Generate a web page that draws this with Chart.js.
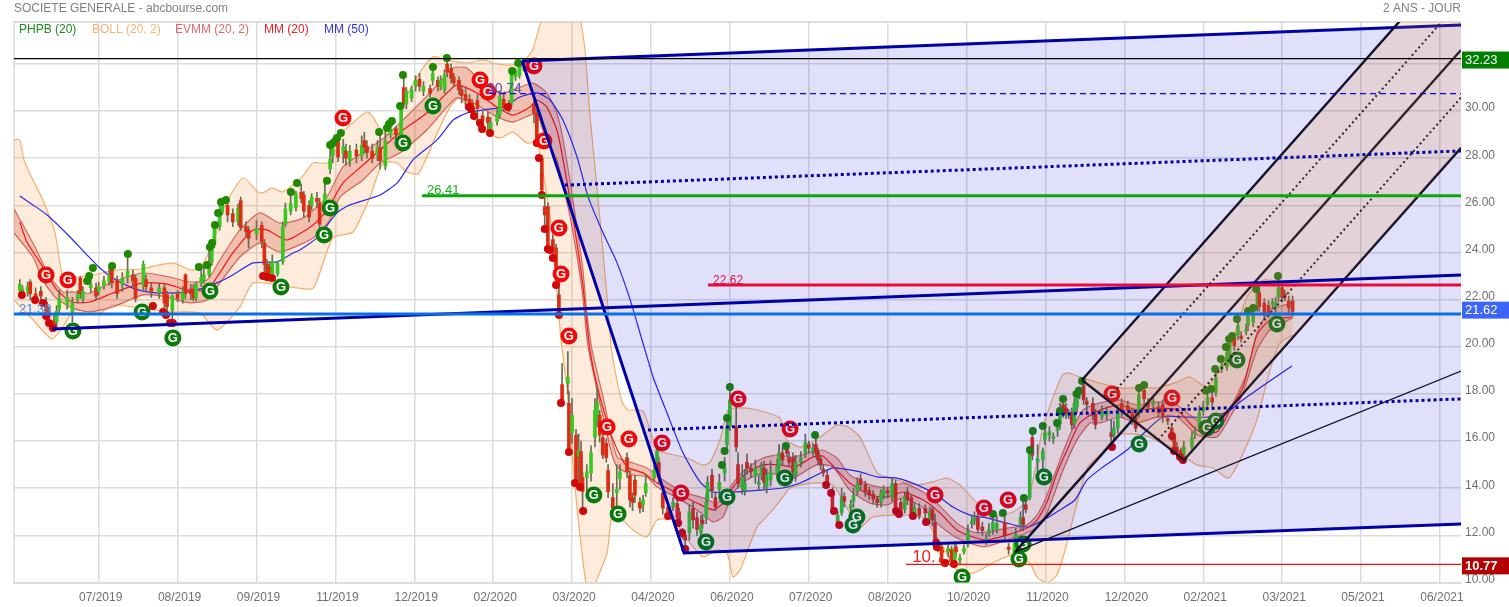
<!DOCTYPE html>
<html>
<head>
<meta charset="utf-8">
<title>SOCIETE GENERALE</title>
<style>
html, body { margin: 0; padding: 0; background: #fff; }
canvas { display: block; }
</style>
<script src="https://cdn.jsdelivr.net/npm/chart.js@4/dist/chart.umd.min.js"></script>
</head>
<body>
<canvas id="chart" width="1509" height="607"></canvas>
<script>
// axis
const tickDays = [30, 60, 90, 120, 150, 180, 210, 240, 270, 300, 330, 360, 390, 420, 450, 480, 510, 540];
const tickLabels = ['07/2019', '08/2019', '09/2019', '11/2019', '12/2019', '02/2020', '03/2020', '04/2020', '06/2020',
  '07/2020', '08/2020', '10/2020', '11/2020', '12/2020', '02/2021', '03/2021', '05/2021', '06/2021'];

// candles
const candleDays = [
  0,1,3,4,6,8,10,11,13,14,
  15,18,20,22,23,24,27,29,30,32,
  34,35,37,39,41,43,44,47,48,50,
  53,55,56,58,60,62,63,65,66,67,
  69,70,72,73,74,76,77,79,81,83,
  84,86,87,90,92,93,94,95,96,98,
  100,101,103,105,107,108,110,111,113,114,
  116,118,119,121,123,124,125.5,128,130,131,
  132,134,136,137,139,141,143,145,146,147,
  149,150.5,152,153.5,156,157,159,160,161.5,162.5,
  164,165,167,168,169.5,171,172,174,176,178,
  179,181.5,182.5,184,186,187,188.5,190,191.5,195.5,
  196.6,198.5,199.6,200.8,202.7,203.9,205,206.2,208.4,208.8,
  210,211.5,212.5,213.4,214,215.6,217.2,218.7,219.5,220.5,
  221.7,223,223.7,225.5,227,228.2,230.9,232,233,233.9,
  235.8,237,238,241.2,242.3,243,244.5,246.5,248.4,250,
  250.7,252,253,254.6,256,257.5,259,259.6,261,261.5,
  263.2,264.5,266,268,268.9,270,272.4,273.1,274.7,275.7,
  276.5,278,279.7,281,282,283,284,285.5,288,288.7,
  290,291.7,292.5,294,295,297,298.7,300,301.6,302.7,
  303.5,304.5,305.5,307,309,311,312.5,313.5,316,317,
  318.5,319.7,321.5,323,324.5,326,327.5,328.5,330,331.7,
  333,335,336.5,337.5,339,340.2,342,344.3,346,347,
  348,349,350.5,353,354.3,355.5,356,357.5,359,360.5,
  362,363,364.3,366,367.5,368.5,370,371.5,374.5,376,
  378.2,378.7,380.5,381.5,382.5,384,385,387,389,389.8,
  391.5,393,394.6,395.5,396.7,397.8,398.8,400,401,402,
  403,404.5,405.7,408,409,411.5,413.3,415,416,417.5,
  419,421.3,423,424.3,425.5,427.5,429,431,433,434.6,
  436.5,438,439,440,441.5,442.6,445.7,446.8,448.5,450,
  451.6,453.4,454.8,457,459,460,461.8,463.2,464.4,466.3,
  467,469,470.6,471.3,473.2,474.8,476.3,477.5,478.6,480,
  481,482.5,484
];
const opens = [
  22.4,22.35,22.35,22.75,22.25,22.35,21.9,21.5,21.1,21.05,
  21.6,21.8,21.4,22.05,22.9,22.05,22.5,22.5,22.35,22.6,
  22.75,23.3,22.8,22.65,22.95,23.05,22.9,22.6,22.85,22.5,
  22.3,22.5,22.2,21.55,22.25,22.0,23.05,22.45,22.45,22.05,
  22.7,22.85,23.05,23.6,24.35,25.1,25.7,26.0,25.65,25.3,
  26.2,25.1,24.95,24.8,25.15,24.4,23.5,23.4,23.1,23.1,
  23.6,25.2,25.75,25.9,26.55,26.45,26.0,26.0,26.3,26.1,
  25.85,27.55,28.1,28.75,28.2,28.3,27.9,28.35,28.1,28.75,
  28.5,28.3,28.15,28.45,27.65,29.0,29.25,28.95,31.0,30.3,
  30.55,31.05,31.35,30.85,30.95,31.3,31.3,31.05,30.9,32.0,
  31.8,31.45,31.3,30.9,30.7,30.5,30.35,30.45,29.8,29.75,
  29.05,29.55,29.85,30.5,30.3,30.35,31.45,31.5,32.1,30.3,
  29.9,28.0,25.95,25.95,24.55,24.2,22.2,18.4,18.45,17.6,
  16.35,16.25,15.35,15.55,14.45,14.45,14.65,16.15,16.9,17.1,
  16.15,15.9,14.75,13.6,13.8,14.4,15.3,14.55,13.6,14.35,
  13.4,13.3,13.8,14.45,14.8,15.1,13.8,13.2,13.2,13.35,
  13.0,12.15,12.0,12.1,13.15,12.75,12.1,12.65,12.75,13.5,
  14.55,13.6,13.95,14.65,15.85,16.6,16.6,15.0,14.0,13.9,
  15.1,14.85,14.5,14.15,14.55,14.85,14.05,14.35,14.65,14.9,
  15.5,15.75,15.3,15.3,14.55,15.1,15.5,15.85,15.55,15.85,
  15.55,15.25,14.8,14.55,13.85,12.55,12.95,13.65,13.15,13.45,
  13.85,14.4,14.15,13.9,13.75,13.55,13.4,13.7,13.9,13.6,
  14.2,13.4,13.1,13.85,13.6,12.95,13.15,13.15,12.65,13.1,
  12.55,11.7,11.5,11.3,11.4,10.85,11.5,10.95,11.3,11.6,
  12.5,12.6,12.75,12.35,11.7,12.1,12.25,12.25,12.55,11.5,
  11.25,11.9,12.45,12.75,13.3,13.6,16.15,15.1,15.2,16.05,
  16.25,16.1,16.45,16.75,17.55,17.4,17.1,17.2,16.75,17.45,
  17.95,18.35,17.7,17.6,17.15,17.05,17.1,16.35,16.25,16.55,
  17.6,17.5,17.2,17.0,17.2,18.15,17.6,17.55,17.45,17.55,
  16.95,16.55,16.15,15.75,15.6,15.3,15.75,16.3,16.6,17.25,
  17.55,17.85,18.05,19.05,19.15,19.75,20.35,20.5,20.45,20.65,
  20.9,21.05,21.7,22.3,21.85,21.75,21.8,21.65,22.1,22.5,
  22.25,21.95,21.95
];
const closes = [
  22.65,22.45,22.55,22.25,22.05,22.15,21.5,21.25,20.95,21.5,
  22.05,22.1,21.85,22.2,22.25,22.35,22.65,22.15,22.55,22.8,
  23.05,22.7,22.25,22.9,23.2,22.8,22.05,23.5,22.55,22.35,
  22.5,21.85,21.7,22.15,22.05,22.35,22.25,22.25,22.05,22.65,
  22.95,23.05,23.5,24.3,25.05,25.65,26.2,25.6,25.3,25.9,
  25.05,24.9,24.6,25.0,24.45,23.5,23.05,23.15,23.6,23.55,
  25.1,25.85,26.1,26.5,26.3,25.75,25.5,26.35,26.15,25.2,
  26.5,27.95,28.75,28.05,28.5,28.0,28.3,28.1,28.55,28.45,
  28.25,28.0,28.45,27.9,28.75,29.25,29.0,30.1,30.3,30.85,
  30.9,31.3,31.05,31.05,30.75,31.6,31.05,31.3,31.55,31.65,
  31.4,31.2,30.9,30.65,30.45,30.2,30.05,30.1,29.6,29.5,
  29.5,29.85,30.6,30.15,30.1,31.65,31.7,32.05,31.9,29.9,
  28.65,26.65,25.6,24.25,24.2,23.35,21.55,17.65,18.7,15.55,
  17.1,14.35,15.6,14.05,13.85,14.7,15.5,17.3,17.65,16.25,
  15.4,15.3,13.85,13.15,13.95,14.7,14.7,13.5,13.4,13.7,
  13.15,13.5,14.2,14.75,15.6,14.45,13.15,13.0,13.4,12.75,
  12.5,11.95,11.8,13.0,12.65,12.25,12.45,12.5,13.4,14.25,
  13.9,13.2,14.25,14.85,16.6,17.75,15.75,14.2,14.45,14.2,
  14.85,14.7,14.85,14.25,14.9,14.25,14.55,14.7,14.9,15.5,
  15.2,15.5,15.1,14.7,15.1,15.3,15.95,15.7,15.7,15.5,
  15.2,15.0,14.65,14.2,12.95,12.85,13.6,13.45,13.3,13.7,
  14.2,14.15,13.85,13.7,13.55,13.4,13.8,13.9,13.8,14.2,
  13.2,13.0,13.65,13.5,12.95,13.2,12.85,12.95,13.0,12.65,
  11.7,11.45,10.85,11.45,10.95,11.45,11.3,11.05,11.45,12.15,
  12.6,12.75,12.25,12.2,11.85,12.25,12.55,12.5,12.0,11.4,
  11.65,12.05,12.75,12.45,13.1,15.55,15.4,15.25,15.6,16.35,
  16.4,16.2,16.6,17.4,17.2,17.15,17.2,16.7,17.6,17.85,
  18.1,17.75,17.55,17.1,16.7,17.25,17.25,16.2,16.55,17.2,
  17.25,17.3,16.9,16.55,17.95,17.8,17.45,17.7,17.2,17.0,
  16.85,16.2,15.5,15.5,15.45,15.75,16.15,16.4,17.2,17.45,
  17.85,17.65,18.7,19.2,19.75,20.15,20.05,20.9,20.35,20.75,
  21.35,21.35,22.3,21.7,21.45,21.45,21.9,21.9,22.5,22.1,
  22.1,21.65,21.5
];
const highs = [
  22.85,22.6,22.75,22.85,22.5,22.55,22.1,21.7,21.4,21.75,
  22.4,22.4,22.1,22.4,23.0,22.55,22.9,22.7,22.75,23.0,
  23.35,23.4,23.0,23.15,23.9,23.25,23.05,23.65,23.05,22.7,
  22.7,22.65,22.35,22.2,22.4,22.55,23.1,22.65,22.65,22.75,
  23.4,23.45,24.2,24.4,25.15,26.0,26.25,26.25,25.85,26.05,
  26.35,25.3,25.1,25.35,25.3,24.55,23.7,23.6,23.9,23.6,
  25.3,26.1,26.5,26.6,26.9,26.6,26.2,26.5,26.55,26.3,
  27.0,28.55,28.85,29.05,28.8,28.6,28.55,28.6,28.95,29.1,
  28.75,28.6,28.75,29.1,29.25,29.55,29.35,30.2,31.5,31.0,
  31.05,31.5,31.6,31.25,31.1,31.87,31.45,31.5,31.75,32.25,
  32.0,31.6,31.45,31.05,30.95,30.7,30.5,30.7,30.0,29.95,
  29.75,30.05,30.85,30.7,30.45,31.75,31.8,32.1,32.2,30.45,
  30.05,28.1,26.3,26.1,24.75,24.35,23.0,19.3,19.8,18.1,
  17.8,16.5,16.3,16.0,14.7,15.0,15.8,17.8,18.3,17.3,
  16.35,16.1,15.0,14.2,15.0,15.0,15.5,14.75,13.8,14.55,
  13.6,13.7,14.6,15.2,16.1,15.3,14.0,13.35,13.6,13.5,
  13.15,12.3,12.2,13.3,13.4,13.0,12.85,12.85,13.75,14.5,
  14.8,13.8,14.6,15.3,16.98,18.29,18.0,15.5,15.0,14.8,
  15.45,15.05,15.2,14.55,15.1,15.15,14.8,15.15,15.25,15.85,
  15.7,15.8,15.55,15.5,15.4,15.55,16.3,16.0,15.9,16.26,
  15.7,15.4,15.0,14.75,14.05,13.0,14.0,13.8,13.5,14.0,
  14.45,14.6,14.3,14.05,13.9,13.65,13.95,14.1,14.05,14.4,
  14.35,13.55,13.85,14.05,13.75,13.4,13.35,13.3,13.2,13.25,
  12.9,11.85,11.6,11.6,11.55,11.6,11.65,11.2,11.6,12.45,
  12.85,13.0,13.1,12.55,12.05,12.5,12.91,12.8,12.8,11.65,
  11.95,12.3,13.0,13.58,13.5,15.62,16.43,15.85,15.7,16.6,
  16.6,16.35,16.77,17.6,17.79,17.6,17.35,17.4,17.8,18.0,
  18.3,18.55,17.85,17.85,17.35,17.5,17.45,16.9,16.85,17.45,
  17.8,17.7,17.4,17.2,18.25,18.38,17.8,17.9,17.65,17.75,
  17.1,16.7,16.3,15.95,15.7,16.0,16.4,16.6,17.5,17.7,
  18.13,18.21,19.06,19.48,19.99,20.46,20.55,21.18,20.65,20.95,
  21.52,21.65,22.45,22.45,22.05,21.95,22.05,22.1,23.0,22.7,
  22.4,22.15,22.15
];
const lows = [
  22.2,22.2,22.15,22.0,22.0,21.85,21.3,21.0,20.8,20.85,
  21.4,21.6,21.05,21.85,22.05,21.85,22.3,22.0,22.2,22.45,
  22.6,22.5,22.05,22.35,22.7,22.55,21.9,22.4,22.35,22.1,
  22.05,21.5,21.25,21.05,21.9,21.85,22.05,22.0,21.95,21.95,
  22.55,22.7,22.95,23.45,24.2,24.95,25.6,25.3,25.1,25.15,
  24.95,24.7,24.2,24.55,24.2,23.05,22.85,22.95,22.95,23.0,
  23.5,25.1,25.6,25.75,26.1,25.5,25.3,25.8,25.9,24.9,
  25.6,27.35,27.8,27.85,27.8,27.7,27.65,27.8,27.9,28.2,
  28.0,27.8,27.9,27.55,27.5,28.85,28.8,28.85,30.15,30.1,
  30.4,30.85,30.85,30.65,30.6,31.1,30.85,30.9,30.75,31.45,
  31.2,31.05,30.7,30.35,30.2,30.1,29.8,29.55,29.25,29.1,
  28.95,29.4,29.7,30.0,29.95,30.2,31.3,31.4,31.7,29.5,
  28.65,26.4,25.0,24.15,23.75,22.6,21.35,17.6,18.0,15.5,
  15.9,14.2,14.3,14.0,13.05,13.8,14.3,15.75,16.6,15.95,
  15.25,15.1,13.6,12.95,13.0,13.95,14.45,13.2,13.05,13.4,
  12.95,13.0,13.65,14.3,14.7,14.2,12.9,12.8,13.05,12.55,
  12.5,11.85,11.4,11.8,12.3,12.0,11.9,12.3,12.5,13.3,
  13.6,13.05,13.6,14.3,15.5,16.45,15.55,14.0,13.75,13.7,
  14.6,14.45,14.2,13.95,14.35,13.95,13.8,14.1,14.45,14.7,
  15.0,15.35,14.9,14.4,14.3,14.9,15.3,15.5,15.4,15.3,
  15.0,14.8,14.5,14.1,12.95,12.4,12.85,13.2,12.95,13.2,
  13.7,13.95,13.65,13.5,13.35,13.2,13.2,13.55,13.6,13.45,
  13.03,12.9,12.95,13.3,12.82,12.8,12.7,12.57,12.5,12.4,
  11.6,11.3,10.8,11.1,10.85,10.79,11.1,10.8,11.2,11.5,
  12.3,12.45,12.1,12.0,11.6,11.95,12.05,12.1,11.85,11.2,
  11.1,11.7,12.25,12.2,12.95,13.5,15.2,14.7,14.7,15.85,
  16.0,15.9,16.2,16.5,17.0,16.95,16.95,16.5,16.55,17.2,
  17.8,17.55,17.2,16.9,16.5,16.9,16.9,15.75,16.05,16.35,
  17.05,17.1,16.7,16.4,17.0,17.6,17.2,17.3,17.0,16.8,
  16.7,16.0,15.5,15.3,15.3,15.2,15.6,16.1,16.4,17.1,
  17.4,17.45,17.9,18.9,19.0,19.55,19.85,20.3,20.2,20.5,
  20.7,20.85,21.5,21.5,21.2,21.25,21.6,21.45,21.9,21.9,
  21.95,21.4,21.3
];

// bollinger
const bollUpperDays = [-2.2,0,1.6,5,8.8,13.4,16.4,19.8,27.8,37,45.7,58.2,64.7,68.5,73.5,76.9,79,84.9,90.6,92.5,95.9,100,107.3,111.5,117.2,120.6,123.7,132,134.3,138.1,143.4,146.5,151,157.1,162.4,170,176.1,181.4,187.5,192,195,197.8,200.8,207,212,213.3,214.9,216.8,219.8,223.3,224.8,226.3,229,231.3,237,242.3,247.2,253.7,259.8,262.5,266.2,269.3,272,278.8,289,291.6,296.7,304.3,310.7,315,319.5,326,331,341.2,347.2,352.5,357.5,364,371.5,377.6,383.3,386.8,389,396.3,398.6,403.1,410.7,419.5,427,432.4,440,445,451.4,459,466.6,472.8,481.8,484];
const bollUpper = [28.78,28.78,27.93,27.08,26.23,24.83,22.96,22.92,23.05,23.26,23.3,23.56,23.26,23.34,24.4,25.68,26.23,27.16,26.57,26.53,26.74,26.57,27.2,27.8,27.8,28.48,29.2,29.96,29.75,29.07,29.07,30.47,31.45,32.3,32.17,32.04,32.17,32,31.96,32.17,32.59,33.65,34.29,34.9,34.3,33.78,32.59,29.83,26.36,22.11,20.07,19.01,17.66,17.32,17.28,15.62,15.45,15.28,14.98,15.11,16.05,17.32,17.4,17.36,16.98,16.05,15.75,16.17,16.68,16.6,16.17,14.65,14.43,14.14,14.27,14.43,14.14,13.37,12.86,12.99,13.5,15.2,16.6,18.8,18.89,18.72,18.46,18.25,18.29,18.25,18.5,18.72,18.29,19.57,22.11,22.83,22.71,22.62];
const bollLowerDays = [-2.2,5,12.2,16.4,19.8,24,30.5,35.4,45.7,56,68.5,75,83.7,88.7,102.7,111.5,119,126.7,133.2,138.1,143.4,147.2,151.4,154.8,159.8,163.6,167.4,176.1,182.6,187.5,192.8,196.6,198.8,202.3,204.2,205.8,208.1,211.1,214.9,216.8,219.4,223.3,225.6,233.2,238.5,242.3,248.4,254.8,259.8,265.1,268.9,271.2,273.9,280.3,285.3,290.2,292.9,301.5,309.2,314.5,319.5,324.4,335.8,343.5,349.9,356.3,362.4,370,377.6,384,386.8,390.6,394.4,398.2,402,406.1,410.7,417.6,427,437.3,447.6,453.7,459.4,464,470.4,475.4,479.2,484];
const bollLower = [21.99,21.14,20.33,20.84,21.43,21.43,21.43,21.77,21.65,21.48,21.43,20.71,21.69,22.71,22.54,22.49,24.62,24.87,26.36,27.8,27.8,27.42,27.33,28.05,29.33,30.17,30.56,29.2,28.86,29.11,28.65,28.65,27.5,24.96,22.41,20.29,18.17,14.05,10.23,9.26,10.11,11.25,12.95,12.23,11.93,12.65,12.65,11.68,11.08,11.38,11.25,10.23,10.53,12.35,12.95,13.63,14.01,14.22,14.14,13.16,12.35,12.78,12.86,12.74,11.72,10.53,10.4,10.83,11.17,10.83,10.23,9.98,10.32,11.68,13.37,14.9,15.41,16.26,16.26,15.75,14.99,14.86,14.43,15.2,16.89,19.02,20.16,20.5];

// EVMM (20, 2)
const evmmUpperDays = [-2.2,5,11.5,16.4,19.8,26.7,34.3,46.8,57,64.7,71.2,76.1,83.7,91.3,98.9,107.7,116.8,122.9,132,138.9,148.4,156,164.8,170,176.1,183.7,189.5,195.1,200.4,204.2,206.1,208.1,210.3,214,215.6,217.6,221.8,227.1,233.2,238.5,244.6,252.2,259.8,265.1,268.9,271.2,276.5,282.6,288,294,301.5,305.3,310.7,315.6,323.3,329.7,335.8,343.5,348.7,356.3,362.4,367.7,375.3,382.9,386.8,390.6,395.5,400.1,404.3,410.7,418.3,424.8,432.4,440,447.6,455.2,461.3,466.6,470.4,475.4,484];
const evmmUpper = [25.85,24.4,22.96,22.33,22.33,22.28,22.71,23.13,22.96,22.75,22.83,23.68,24.96,25.68,25.25,25.46,26.36,27.63,28.35,28.9,29.92,30.77,31.83,31.83,31.19,30.77,30.98,31.19,30.77,29.92,29.07,27.8,26.23,23.39,21.43,19.86,17.87,15.32,15.07,14.86,14.35,13.84,13.59,13.37,13.8,14.22,14.86,15.28,15.41,15.32,15.54,15.62,15.28,14.56,14.14,14.01,14.22,13.84,13.37,12.52,12.14,12.14,12.31,12.44,12.86,13.71,15.2,16.47,17.32,17.62,17.74,17.53,17.66,17.53,16.89,16.68,17.62,18.89,20.59,21.56,21.86];
const evmmLowerDays = [-2.2,5,8.8,13.4,19.8,26.7,35.4,46.8,56,64.7,71.2,76.1,83.7,91.3,98.9,111.5,117.9,121.8,130.5,137,144.6,154.8,162.4,166.3,173.9,181.4,187.5,194,196.6,198.9,201.6,204.2,206.4,210,213.8,216.1,224.4,227.1,233.2,238.5,242.3,249.9,257.5,263.6,267.4,271.2,276.5,282.6,289,294,303,309.2,315.6,323.3,329.7,335.8,343.5,348.7,356.3,366.3,375.3,382.9,386.8,390.6,396.7,402,407,410.7,418.3,424.8,432.4,440,447.6,455.2,460.2,465.1,470.4,475.4,484];
const evmmLower = [24.83,23.81,22.83,22.11,21.65,21.48,21.69,22.2,22.11,21.86,21.99,22.71,23.81,24.4,24.02,24.62,25.38,26.36,27.08,27.8,28.23,29.2,30.17,30.56,30.26,29.75,29.54,29.83,29.92,29.2,28.48,27.93,26.95,25.08,22.41,19.99,15.75,14.9,14.56,14.48,14.05,13.59,13.08,12.57,12.78,13.8,14.35,14.65,14.56,14.43,14.99,14.9,13.92,13.37,13.29,13.59,13.16,12.52,11.89,11.51,11.8,12.1,12.35,12.95,14.77,16.05,16.77,16.77,17.02,16.77,17.02,17.02,16.26,16.17,17.02,18.04,19.86,20.71,21.22];

// MM (20) and MM (50)
const mm20Days = [0,2.7,8.8,14.1,19.8,26.7,35.4,46.8,56,63.6,71.2,75,81,88.7,94,101.6,111.5,116.8,122.9,130.5,137,145.7,154.8,162.4,166.3,173.9,181.4,187.5,194,196.6,200.4,204.2,206.4,210.3,214,216.8,220.6,225.6,230.9,237,242.3,249.9,257.5,263.6,267.4,271.2,276.5,282.6,289,294.7,301.5,305.3,310.7,315.6,323.3,329.7,335.8,343.5,349.9,356.3,362.4,367.7,375.3,382.9,386.8,390.6,394.4,398.2,403.1,410.7,418.3,424.8,432.4,440,447.6,455.2,460.2,465.1,470.4,475.4,483.7];
const mm20 = [25.3,24.45,23.39,22.41,21.9,21.9,22.28,22.71,22.66,22.41,22.41,22.96,23.98,24.96,24.96,24.53,25.17,25.8,26.95,27.71,28.35,29.2,29.92,30.77,31.11,30.77,30.17,29.83,30.17,30.47,30.17,29.2,28.05,25.51,22.71,19.86,17.87,16.05,14.9,14.65,14.22,13.8,13.37,13.08,13.37,14.05,14.65,14.99,14.99,14.9,15.32,15.37,14.77,14.22,13.71,13.63,13.84,13.5,12.95,12.23,11.93,11.8,12.01,12.31,12.65,13.42,14.65,15.62,16.77,17.32,17.53,17.32,17.4,17.32,16.47,16.39,17.32,18.29,20.5,21.14,21.26];
const mm50Days = [0,5,10.3,19.1,25.6,30.5,35.4,43,48.4,56,63.6,69.7,75,81,88.7,97.8,103.9,106.5,113,120.6,125.5,137,143.8,149.5,158.6,164.8,170,176.1,183.7,190.2,196.6,201.6,206.5,211.9,216.1,221.8,227.1,232.1,236.6,240.8,246.1,252.2,258.7,263.6,271.2,281.4,290.2,296.7,303,309.2,313,319.5,326,333.5,341.2,348.7,354.8,361.3,367.7,375.3,383.3,390.6,395.5,401.2,405.8,411.9,421,428.6,434.7,443.8,451.4,459,465,474.2,483.7];
const mm50 = [26.4,26.02,25.6,24.66,23.89,23.34,22.92,22.49,22.33,22.28,22.33,22.49,22.71,23.05,23.56,23.6,23.98,24.11,24.62,25.68,26.02,26.44,26.99,27.93,28.77,29.62,29.92,30.05,30.17,30.6,30.77,30.47,29.62,28.05,26.36,24.83,23.56,21.99,20.29,18.72,17.19,15.49,14.26,13.84,13.84,13.92,14.01,14.22,14.56,14.86,14.82,14.69,14.48,14.43,14.14,13.71,13.2,12.86,12.74,12.52,12.35,12.74,13.08,13.5,14.35,14.9,15.62,16.47,17.02,17.02,17.02,17.23,17.74,18.46,19.19];

// PHPB dots
const dotHighDays = [25.6,26.4,27.8,35.1,41.1,68.1,71.2,72.3,73.1,74.2,75.4,76.5,78.4,103.1,105.4,116.8,118,119.1,120.6,122.1,136.6,139.6,140.4,141.5,144.6,145.7,157.1,162.4,187.2,189.5,267,268,268.9,270,291.3,302.4,370,373.8,381.8,384.1,385.2,389,394.4,395.5,396.7,401.8,402.7,403.9,425.6,427.5,451,453,454.5,456.7,458.6,459.8,461,462.8,467,469,470.1,478.4];
const dotHighs = [22.79,23,23.34,23.43,23.94,23.39,23.47,24.23,24.4,25.17,25.68,26.14,26.23,26.57,26.95,27.04,28.56,28.65,28.86,29.07,29.11,29.28,29.45,29.58,30.22,31.53,31.87,32.25,31.7,32.04,14.99,15.58,16.98,18.29,15.79,16.26,12.91,12.95,13.58,15.62,16.43,16.64,16.77,17.28,17.79,18,18.13,18.55,18.25,18.38,18.13,18.21,19.06,19.48,19.99,20.33,20.46,21.18,21.52,21.65,22.45,23];
const dotLowDays = [0.8,5.8,8.8,10,11.1,12.6,50.6,54.5,55.6,57.1,58.2,92.5,94,95.9,170.8,171.6,172.7,175,175.8,178.8,185.6,196.6,197.4,198.5,199.6,200.8,201.6,202.7,203.9,205,205.8,208.8,211.1,213,214.2,246.5,250.3,251.8,253,306.6,308.5,309.6,311.6,333.2,334.3,339.6,344.6,348.4,348.7,351.8,355.2,415.3,438.1,438.9,441.2,442.3];
const dotLows = [22.2,21.99,21.86,21.31,21.01,20.8,21.73,21.48,21.35,21.01,21.01,23,22.96,22.92,30.17,30.09,29.79,29.5,29.24,29.07,30.17,28.65,28.01,26.44,25,24.15,24.11,23.77,22.62,21.35,17.62,15.54,14.22,14.05,13.03,12.82,12.52,12.1,11.42,14.14,13.8,13.03,12.44,13.03,12.91,12.82,12.57,11.68,11.51,10.83,10.79,15.75,16.22,15.58,15.32,15.2];

// G badges
const gGreenDays = [20.2,46.5,58.2,72.3,99.3,115.7,118,145.7,157.1,218.3,227.5,260.9,268.9,290.9,316.8,318.3,358.3,379.9,381.5,389.4,425.6,451.4,454.8,462.8,478];
const gGreen = [20.67,21.48,20.37,22.37,22.54,24.74,25.89,28.65,30.22,13.71,12.91,11.72,13.63,14.43,12.44,12.78,10.23,11,11.63,14.48,15.88,16.56,16.85,19.44,20.97];
const gRedDays = [10,18.3,122.9,175,178,195.5,199.3,205,205.8,208.8,223.3,231.6,244.2,251.4,273.1,292.9,348,366.6,375.8,415.3,438.1];
const gRed = [23.05,22.83,29.71,31.32,30.81,31.91,28.73,25.04,23.09,20.46,16.6,16.09,15.92,13.8,17.79,16.51,13.71,13.16,13.5,18,17.83];

// drawn trend lines, [day, price]
const channelTop = [[191, 32.13], [548, 33.65]];
const channelBottom = [[191, 32.13], [252.6, 11.25], [548, 12.48]];
const channelMiddle = [[12.2, 20.76], [548, 23.05]];
const channelDotUp = [[207.3, 26.86], [548, 28.31]];
const channelDotLow = [[238.9, 16.47], [548, 17.79]];
const forkTop = [[403.9, 18.59], [548, 36.75]];
const forkBottom = [[403.9, 18.59], [442.7, 15.2], [548, 28.44]];
const forkMiddle = [[378.4, 11.29], [548, 32.59]];
const forkDotUp = [[413.4, 17.74], [548, 34.71]];
const forkDotLow = [[432.8, 16.05], [548, 30.57]];
const forkThin = [[378.4, 11.29], [548, 18.97]];

// horizontal levels, [start day, price]
const levelBlack = [-2.2, 32.23];
const levelDash = [178.8, 30.74];
const levelGreen = [153, 26.41];
const levelRed = [261.7, 22.62];
const levelBlue = [-2.2, 21.39];
const levelLow = [337, 10.77];

const FONT = '"Liberation Sans", Arial, sans-serif';

function pairs(days, values) {
  return days.map((d, i) => ({ x: d, y: values[i] }));
}
function pts(list) {
  return list.map(p => ({ x: p[0], y: p[1] }));
}
function level(l) {
  return [{ x: l[0], y: l[1] }, { x: 548, y: l[1] }];
}
function lineSet(data, color, width, order, extra) {
  return Object.assign({
    type: 'line', data: data, borderColor: color, borderWidth: width, pointRadius: 0,
    tension: 0, fill: false, order: order
  }, extra || {});
}
function dotSet(data, color, radius, order, letter) {
  return {
    type: 'line', data: data, showLine: false, pointRadius: radius, pointBackgroundColor: color,
    pointBorderWidth: 0, order: order, letter: letter
  };
}

const candleColors = candleDays.map((d, i) => closes[i] >= opens[i] ? '#38c820' : '#dc2c12');
const wicks = candleDays.map((d, i) => ({ x: d, y: [lows[i], highs[i]] }));
const bodies = candleDays.map((d, i) => ({ x: d, y: [opens[i], closes[i]] }));

const BLUE = '#0000a8';
const FORK = '#10102e';
const PEACH = 'rgba(243,128,22,0.15)';

const datasets = [
  // bands, fill goes to the next dataset
  lineSet(pairs(bollUpperDays, bollUpper), '#f5b06a', 1.2, 20, { fill: '+1', backgroundColor: PEACH, tension: 0.2 }),
  lineSet(pairs(bollLowerDays, bollLower), '#f5b06a', 1.2, 20, { tension: 0.2 }),
  lineSet(pairs(evmmUpperDays, evmmUpper), '#d06a62', 1.2, 19, { fill: '+1', backgroundColor: 'rgba(205,50,30,0.24)', tension: 0.2 }),
  lineSet(pairs(evmmLowerDays, evmmLower), '#d06a62', 1.2, 19, { tension: 0.2 }),
  lineSet(pairs(mm20Days, mm20), '#f01818', 1.2, 18, { tension: 0.2 }),
  lineSet(pairs(mm50Days, mm50), '#2a2ae8', 1.2, 18, { tension: 0.2 }),
  // candles
  { type: 'bar', data: wicks, backgroundColor: '#6b6b55', barThickness: 1, grouped: false, order: 17 },
  { type: 'bar', data: bodies, backgroundColor: candleColors, barThickness: 3, grouped: false, order: 16 },
  dotSet(pairs(dotHighDays, dotHighs), '#1f8a00', 4, 15),
  dotSet(pairs(dotLowDays, dotLows), '#d20808', 4, 15),
  dotSet(pairs(gGreenDays, gGreen), '#0a7a0a', 8.5, 14, 'G'),
  dotSet(pairs(gRedDays, gRed), '#f20808', 8.5, 14, 'G'),
  // shaded channel and fork sit over the candles
  lineSet(pts(channelTop), BLUE, 3, 5, { fill: '+1', backgroundColor: 'rgba(0,0,210,0.12)' }),
  lineSet(pts(channelBottom), BLUE, 3, 5),
  lineSet(pts(forkTop), FORK, 2.4, 4, { fill: '+1', backgroundColor: PEACH }),
  lineSet(pts(forkBottom), FORK, 2.4, 4),
  lineSet(pts(forkMiddle), FORK, 2.4, 4),
  lineSet(pts(forkDotUp), FORK, 2, 4, { borderDash: [2, 3] }),
  lineSet(pts(forkDotLow), FORK, 2, 4, { borderDash: [2, 3] }),
  lineSet(pts(forkThin), FORK, 1.2, 4),
  lineSet(pts(channelMiddle), BLUE, 3, 3),
  lineSet(pts(channelDotUp), BLUE, 3, 3, { borderDash: [3, 3] }),
  lineSet(pts(channelDotLow), BLUE, 3, 3, { borderDash: [3, 3] }),
  // levels
  lineSet(level(levelBlack), '#000', 1.2, 2),
  lineSet(level(levelDash), '#0a0ae0', 1.2, 2, { borderDash: [6, 4] }),
  lineSet(level(levelGreen), '#0aa80a', 3, 2),
  lineSet(level(levelRed), '#ea0a3c', 3, 2),
  lineSet(level(levelBlue), '#0a6ee8', 3, 2),
  lineSet(level(levelLow), '#ee1010', 1.2, 2)
];

function caption(chart, text, price, day, color, size, shift) {
  const { ctx, scales: { x, y } } = chart;
  ctx.save();
  ctx.textBaseline = 'alphabetic';
  ctx.textAlign = 'left';
  ctx.font = size + 'px ' + FONT;
  ctx.fillStyle = color;
  ctx.fillText(text, x.getPixelForValue(day), y.getPixelForValue(price) + shift);
  ctx.restore();
}

// letters inside the badges
const badgeLetters = {
  id: 'badgeLetters',
  afterDatasetDraw(chart, args) {
    const ds = chart.data.datasets[args.index];
    if (!ds.letter) return;
    const ctx = chart.ctx;
    ctx.save();
    ctx.font = 'bold 13px ' + FONT;
    ctx.fillStyle = '#fff';
    ctx.textAlign = 'center';
    ctx.textBaseline = 'middle';
    args.meta.data.forEach(p => ctx.fillText(ds.letter, p.x, p.y + 0.5));
    ctx.restore();
  }
};

const frameAndText = {
  id: 'frameAndText',
  beforeDatasetsDraw(chart) {
    const { ctx, chartArea: a } = chart;
    ctx.save();
    ctx.strokeStyle = '#dcdcdc';
    ctx.lineWidth = 1.5;
    ctx.beginPath();
    ctx.moveTo(a.left, a.bottom);
    ctx.lineTo(a.left, a.top);
    ctx.lineTo(a.right, a.top);
    ctx.stroke();
    ctx.restore();
    // this one lies under the candles
    caption(chart, '10.77', levelLow[1], 339.3, '#ee2020', 17, -2);
  },
  afterDatasetsDraw(chart) {
    caption(chart, '21.39', levelBlue[1], -0.3, '#3a8ee8', 13, -1);
    caption(chart, '30.74', levelDash[1], 177.6, '#5050c8', 14, -1);
    caption(chart, '26.41', levelGreen[1], 154.8, '#12b012', 13, -2);
    caption(chart, '22.62', levelRed[1], 263.6, '#e01040', 12, -1);
  },
  afterDraw(chart) {
    const { ctx, chartArea: a, scales: { y } } = chart;
    ctx.save();
    ctx.textBaseline = 'middle';
    ctx.font = '12px ' + FONT;
    ctx.fillStyle = '#808080';
    ctx.textAlign = 'left';
    ctx.fillText('SOCIETE GENERALE - abcbourse.com', 14, 9);
    ctx.textAlign = 'right';
    ctx.fillText('2 ANS - JOUR', a.right, 9);
    // indicator legend
    ctx.textAlign = 'left';
    [['PHPB (20)', 19, '#1e8c1e'], ['BOLL (20, 2)', 92, '#f5b46e'], ['EVMM (20, 2)', 175, '#e06a6a'],
     ['MM (20)', 264, '#f02020'], ['MM (50)', 324, '#3030e8']].forEach(t => {
      ctx.fillStyle = t[2];
      ctx.fillText(t[0], t[1], 30);
    });
    // price tags on the right axis
    [['32.23', levelBlack[1], '#008000', ''], ['21.62', 21.62, '#3c64fa', ''], ['10.77', levelLow[1], '#b40000', 'bold ']].forEach(t => {
      const py = y.getPixelForValue(t[1]);
      ctx.fillStyle = t[2];
      ctx.fillRect(1462, py - 7, 47, 17);
      ctx.fillStyle = '#fff';
      ctx.font = t[3] + '13px ' + FONT;
      ctx.fillText(t[0], 1465, py + 2);
    });
    ctx.restore();
  }
};

new Chart(document.getElementById('chart').getContext('2d'), {
  type: 'bar',
  data: { datasets: datasets },
  plugins: [badgeLetters, frameAndText],
  options: {
    responsive: false,
    animation: false,
    devicePixelRatio: 1,
    layout: { padding: { left: 14, top: 22, right: 0, bottom: 0 } },
    plugins: { legend: { display: false }, tooltip: { enabled: false } },
    scales: {
      x: {
        type: 'linear',
        min: -2.2,
        max: 548,
        offset: false,
        afterBuildTicks: axis => { axis.ticks = tickDays.map(v => ({ value: v })); },
        afterFit: box => { box.height = 24.5; },
        grid: { offset: false, color: '#dcdcdc', lineWidth: 1.5, drawTicks: false, tickLength: 0 },
        border: { color: '#dcdcdc', width: 2 },
        ticks: {
          autoSkip: false, maxRotation: 0, padding: 8, labelOffset: 2, color: '#707070',
          font: { family: FONT, size: 12 },
          callback: v => tickLabels[tickDays.indexOf(v)]
        }
      },
      y: {
        position: 'right',
        min: 10,
        max: 33.78,
        afterFit: box => { box.width = 48; },
        grid: { color: '#dcdcdc', lineWidth: 1.5, drawTicks: false, tickLength: 0 },
        border: { display: false },
        ticks: {
          stepSize: 2, padding: 4, labelOffset: -3, color: '#707070', crossAlign: 'near',
          font: { family: FONT, size: 12 },
          callback: v => (v <= 30 && v % 2 === 0) ? v.toFixed(2) : ''
        }
      }
    }
  }
});
</script>
</body>
</html>
